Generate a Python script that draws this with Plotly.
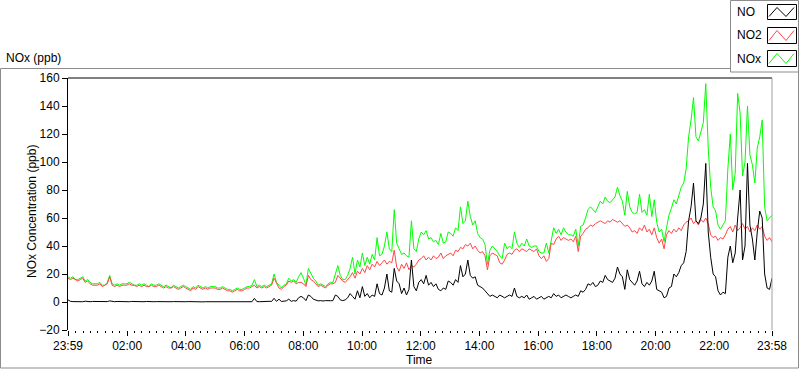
import pandas as pd
import plotly.graph_objects as go

# ---- data (5-minute readings, 23:59 -> 23:58) ----
start_time = "2000-01-01 23:59"
end_time = "2000-01-02 23:58"

no2 = [
    17,16,17,16,15,16,17,14,15,13,12,12,
    12,13,11,12,13,18,12,11,12,11,12,12,
    12,13,12,12,11,12,11,12,11,11,12,11,
    11,12,11,10,11,10,10,11,10,9,10,11,
    10,9,8,10,9,11,10,9,10,9,10,10,
    10,9,9,10,9,8,8,7,8,9,8,8,
    9,10,10,11,12,10,11,10,11,10,11,12,
    17,13,10,9,11,12,15,14,15,13,14,14,
    13,11,19,16,15,13,11,12,11,10,12,13,
    13,14,19,17,15,14,16,18,21,17,22,20,
    24,21,26,23,27,25,29,26,28,30,27,29,
    28,37,25,22,27,24,28,23,26,25,27,30,
    31,33,30,32,30,33,31,32,35,31,33,34,
    35,33,37,36,39,38,41,40,42,38,40,37,
    35,36,33,23,33,35,34,33,28,27,30,34,
    35,34,37,38,36,38,37,36,38,37,36,38,
    33,31,33,29,31,42,41,45,47,44,46,45,
    44,45,43,47,36,47,49,52,53,55,54,56,
    57,58,57,56,58,57,59,58,57,58,56,54,
    55,53,50,51,49,53,51,55,50,52,48,53,
    46,42,45,38,48,51,49,52,50,53,51,55,
    57,58,60,56,58,55,59,57,60,56,48,46,
    47,44,46,45,48,52,54,50,55,51,53,56,
    52,54,50,53,51,55,52,54,47,44,46,43,
]

no = [
    1.5,0.5,0.3,0.2,0.5,0.3,0.2,0.6,0.3,0.2,0.4,0.3,
    0.3,0.2,0.5,0.2,0.3,0.8,0.3,0.2,0.4,0.3,0.2,0.5,
    0.3,0.2,0.4,0.3,0.2,0.5,0.3,0.2,0.4,0.2,0.3,0.2,
    0.3,0.2,0.3,0.4,0.2,0.3,0.2,0.3,0.2,0.4,0.3,0.2,
    0.2,0.3,0.2,0.1,0.2,0.3,0.2,0.1,0.2,0.2,0.1,0.2,
    0.2,0.1,0.2,0.1,0.2,0.1,0.1,0.2,0.1,0.1,0.2,0.1,
    0.1,0.2,0.1,0.2,2.6,0.3,0.2,0.4,0.2,0.3,0.5,0.4,
    2.6,0.5,2,0.4,0.6,0.8,2,0.5,1,0.6,3,4,
    3,1,5,4,2,1.5,0.8,1,0.7,1,1.2,0.9,
    1,5,4,1.5,1,1.5,3,6,4,2,8,3,
    11,4,6,3,5,4,13,6,5,10,20,8,
    7,24,15,13,6,10,5,9,30,11,8,14,
    16,13,19,12,14,11,13,9,8,10,9,15,
    14,12,16,14,26,18,20,30,19,17,18,12,
    11,10,8,6,4,5,4,3,5,4,3,4,
    5,4,10,4,3,4,3,5,2,3,4,2,
    3,4,2,3,4,3,6,4,5,3,4,5,
    4,3,4,5,4,8,7,9,13,12,14,11,
    12,15,14,19,16,15,14,17,25,20,18,9,
    23,16,14,12,15,22,13,11,14,12,15,22,
    9,8,7,3,4,10,11,20,18,21,26,28,
    36,58,68,85,58,56,60,70,99,50,32,20,
    18,8,5,7,6,32,40,28,35,60,80,30,
    40,99,55,45,30,50,65,60,20,10,9,17,
]

nox = [
    18,17,18,16,16,17,18,15,16,14,13,13,
    13,14,12,12,14,19,13,12,13,12,13,13,
    13,14,13,12,12,13,12,13,12,11,13,12,
    12,13,12,11,12,11,10,12,11,10,11,12,
    11,10,9,11,10,12,11,10,11,10,11,11,
    11,10,10,11,10,9,9,8,9,10,9,9,
    10,11,11,12,16,11,12,11,12,11,12,13,
    20,14,12,10,12,13,17,15,16,14,18,21,
    17,12,24,20,17,15,12,13,12,11,13,14,
    14,20,26,19,16,16,19,24,32,20,30,25,
    35,26,32,27,34,30,46,33,34,40,50,38,
    36,66,42,38,34,35,33,32,58,38,36,45,
    50,48,51,45,46,43,44,41,49,42,43,50,
    49,47,53,51,68,56,58,72,61,55,58,49,
    46,45,41,27,37,40,38,36,33,31,42,38,
    40,38,50,42,39,42,40,45,40,39,40,40,
    36,35,35,42,35,45,53,49,52,48,53,50,
    48,48,47,52,40,54,55,60,66,68,66,64,
    68,72,70,75,72,71,73,75,82,76,72,62,
    79,68,64,63,64,77,64,66,62,77,61,73,
    57,50,52,43,53,62,67,73,70,76,82,85,
    95,118,130,146,118,115,122,128,156,110,82,68,
    65,55,52,55,58,95,120,80,92,149,135,90,
    100,140,105,98,85,110,118,130,68,58,60,62,
]

y_ticks = [-20, 0, 20, 40, 60, 80, 100, 120, 140, 160]
x_tick_vals = ["2000-01-01 23:59", "2000-01-02 02:00", "2000-01-02 04:00",
               "2000-01-02 06:00", "2000-01-02 08:00", "2000-01-02 10:00",
               "2000-01-02 12:00", "2000-01-02 14:00", "2000-01-02 16:00",
               "2000-01-02 18:00", "2000-01-02 20:00", "2000-01-02 22:00",
               "2000-01-02 23:58"]
x_tick_text = ["23:59", "02:00", "04:00", "06:00", "08:00", "10:00", "12:00",
               "14:00", "16:00", "18:00", "20:00", "22:00", "23:58"]

series_names = ["NO", "NO2", "NOx"]
series_colors = ["#000000", "#ff4646", "#00ff00"]

times = pd.date_range(start_time, end_time, periods=len(no2))

FONT = "Liberation Sans"
W, H = 800, 369
L, R, T, B = 68, 772, 78, 330

fig = go.Figure()
for name, vals, col in [("NOx", nox, series_colors[2]),
                        ("NO2", no2, series_colors[1]),
                        ("NO", no, series_colors[0])]:
    fig.add_trace(go.Scatter(x=times, y=vals, mode="lines", name=name,
                             line=dict(color=col, width=1), showlegend=False,
                             hoverinfo="skip"))

def px(x):
    return (x - L) / (R - L)

def py(y):
    return (B - y) / (B - T)

shapes = []
# outer frame
shapes.append(dict(type="rect", xref="paper", yref="paper",
                   x0=px(0.5), x1=px(798.5), y0=py(368), y1=py(68.5),
                   line=dict(color="#8c8c8c", width=1), layer="below"))
# plot top (dark) and right (grey) borders
shapes.append(dict(type="line", xref="paper", yref="paper", x0=0, x1=1, y0=1, y1=1,
                   line=dict(color="#000000", width=1)))
shapes.append(dict(type="line", xref="paper", yref="paper", x0=1, x1=1, y0=0, y1=1,
                   line=dict(color="#a0a0a0", width=1)))
# legend box
shapes.append(dict(type="rect", xref="paper", yref="paper",
                   x0=px(730.5), x1=px(798.5), y0=py(72), y1=py(0.5),
                   fillcolor="white", line=dict(color="#8c8c8c", width=1)))

txt = dict(family=FONT, size=12, color="black")
annotations = []
annotations.append(dict(text="NOx (ppb)", xref="paper", yref="paper",
                        x=px(4), y=py(58), xanchor="left", yanchor="middle",
                        showarrow=False, font=txt))
annotations.append(dict(text="Time", xref="paper", yref="paper",
                        x=px(419), y=py(360), xanchor="center", yanchor="middle",
                        showarrow=False, font=txt))
annotations.append(dict(text="NOx Concentration (ppb)", xref="paper", yref="paper",
                        x=px(32), y=py(212), xanchor="center", yanchor="middle",
                        textangle=-90, showarrow=False, font=txt))

icon_rows = [(4.5, 19.5), (27.5, 43.5), (50.5, 66.5)]
for (name, col), (y0, y1) in zip(zip(series_names, series_colors), icon_rows):
    cy = (y0 + y1) / 2
    annotations.append(dict(text=name, xref="paper", yref="paper",
                            x=px(735), y=py(cy), xanchor="left", yanchor="middle",
                            showarrow=False, font=txt))
    shapes.append(dict(type="rect", xref="paper", yref="paper",
                       x0=px(767.5), x1=px(796.5), y0=py(y1), y1=py(y0),
                       fillcolor="white", line=dict(color="#000000", width=1)))
    pts = [(769, y1 - 3), (777, y0 + 3), (786, y1 - 3), (794, y0 + 3)]
    path = "M " + " L ".join(f"{px(a)},{py(b)}" for a, b in pts)
    shapes.append(dict(type="path", xref="paper", yref="paper", path=path,
                       line=dict(color=col, width=1)))

fig.update_layout(
    width=W, height=H,
    margin=dict(l=L, r=W - R, t=T, b=H - B, pad=0),
    paper_bgcolor="white", plot_bgcolor="white",
    font=txt,
    shapes=shapes, annotations=annotations,
    hovermode=False,
    xaxis=dict(type="date", range=[start_time, end_time], automargin=False,
               tickmode="array", tickvals=x_tick_vals, ticktext=x_tick_text,
               ticks="outside", ticklen=5, tickcolor="black", tickwidth=1,
               showgrid=False, zeroline=False, showline=False,
               minor=dict(tickmode="linear", tick0="2000-01-02 00:00",
                          dtick=15 * 60 * 1000, ticks="outside", ticklen=2,
                          tickcolor="black", showgrid=False),
               tickfont=txt),
    yaxis=dict(range=[-20, 160], tickmode="array", tickvals=y_ticks, automargin=False,
               ticks="outside", ticklen=5, tickcolor="black",
               showgrid=False, zeroline=False, showline=True,
               linecolor="black", linewidth=1,
               tickfont=txt),
)

fig.write_html("out.html", config={"displayModeBar": False, "staticPlot": True},
               post_script="document.body.style.margin='0';document.body.style.overflow='hidden';")
